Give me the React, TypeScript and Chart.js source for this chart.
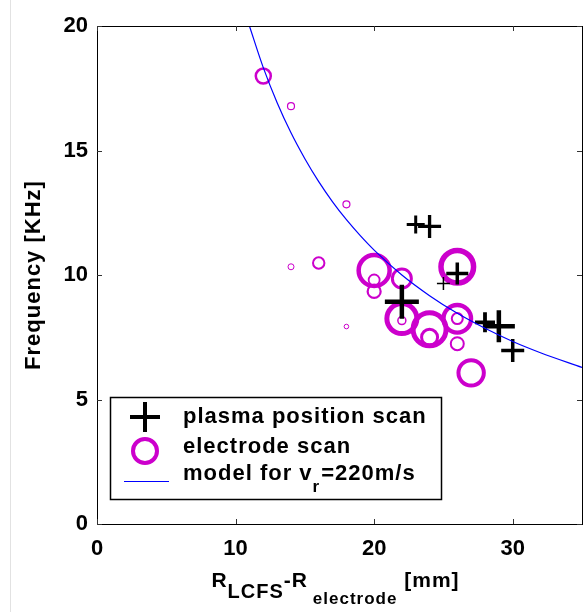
import React, { useEffect, useRef } from 'react';
import { Chart, registerables } from 'chart.js';

Chart.register(...registerables);

// ---- data ----
// plasma position scan (black crosses)
const crossX = [23, 24, 26, 25, 22, 28, 29, 30];
const crossY = [12.03, 11.95, 10.06, 9.66, 8.93, 8.1, 7.94, 6.97];
// electrode scan (magenta circles)
const circleX = [12, 14, 18, 14, 16, 18, 20, 20, 20, 22, 22, 22, 24, 24, 26, 26, 26, 26, 27];
const circleY = [17.99, 16.78, 12.84, 10.33, 10.48, 7.93, 10.18, 9.8, 9.34, 9.86, 8.25, 8.17, 7.82, 7.5, 10.33, 8.24, 8.25, 7.24, 6.07];
// model for v_r = 220 m/s (blue curve)
const modelX = [11, 12, 13, 14, 15, 16, 17, 18, 19, 20, 22, 24, 26, 28, 30, 32, 35];
const modelY = [20, 18.33, 16.92, 15.71, 14.67, 13.75, 12.94, 12.22, 11.58, 11, 10, 9.17, 8.46, 7.86, 7.33, 6.88, 6.29];

// axis ticks
const xTicks = [0, 10, 20, 30];
const yTicks = [0, 5, 10, 15, 20];

// marker styling (per point)
const crossRadius = [9, 11.5, 11, 6.5, 17, 10, 16, 11.5];
const crossWidth = [3, 3.3, 3.5, 1.5, 4.5, 3.8, 4.5, 3.5];
const circleRadius = [7.5, 3.5, 3.5, 3, 5.7, 2.3, 15.5, 5.5, 6.5, 9.5, 15, 4, 16.5, 8, 16.3, 13.8, 5.5, 6.5, 12.7];
const circleWidth = [2.5, 1.2, 1.2, 1, 2, 1, 4.5, 1.8, 2.2, 3, 5, 1.5, 5, 3, 5.5, 4.3, 2, 2, 4];

const MAGENTA = '#cc00cc';
const BLUE = '#0000ff';
const FONT = 'Arial, "Liberation Sans", Helvetica, sans-serif';

export default function App() {
  const ref = useRef<HTMLCanvasElement>(null);

  useEffect(() => {
    document.body.style.margin = '0';
    const canvas = ref.current;
    if (!canvas) return;

    const decor = {
      id: 'decor',
      beforeDraw(chart: any) {
        const ctx = chart.ctx;
        ctx.save();
        ctx.fillStyle = '#ffffff';
        ctx.fillRect(0, 0, chart.width, chart.height);
        ctx.strokeStyle = '#e2e2e2';
        ctx.lineWidth = 1;
        ctx.beginPath();
        ctx.moveTo(10.5, 0);
        ctx.lineTo(10.5, chart.height);
        ctx.stroke();
        ctx.restore();
      },
      afterDraw(chart: any) {
        const ctx = chart.ctx;
        const { left, right, top, bottom } = chart.chartArea;
        const xs = chart.scales.x;
        const ys = chart.scales.y;
        ctx.save();
        // frame
        ctx.strokeStyle = '#000';
        ctx.lineWidth = 1;
        ctx.strokeRect(left + 0.5, top + 0.5, right - left, bottom - top);
        // inward ticks
        ctx.strokeStyle = '#333';
        ctx.beginPath();
        xTicks.forEach((v) => {
          const px = Math.round(xs.getPixelForValue(v)) + 0.5;
          ctx.moveTo(px, bottom);
          ctx.lineTo(px, bottom - 5);
          ctx.moveTo(px, top);
          ctx.lineTo(px, top + 5);
        });
        yTicks.forEach((v) => {
          const py = Math.round(ys.getPixelForValue(v)) + 0.5;
          ctx.moveTo(left, py);
          ctx.lineTo(left + 5, py);
          ctx.moveTo(right, py);
          ctx.lineTo(right - 5, py);
        });
        ctx.stroke();

        ctx.fillStyle = '#000';
        (ctx as any).letterSpacing = '1px';
        ctx.textBaseline = 'alphabetic';
        ctx.textAlign = 'left';

        // y title
        ctx.save();
        ctx.translate(34, (top + bottom) / 2);
        ctx.rotate(-Math.PI / 2);
        ctx.font = `bold 22px ${FONT}`;
        ctx.textAlign = 'center';
        ctx.textBaseline = 'middle';
        ctx.fillText('Frequency [KHz]', 0, 0);
        ctx.restore();

        // x title with subscripts
        const parts: [string, number, number][] = [
          ['R', 21, 0],
          ['LCFS', 20, 11],
          ['-', 21, 0],
          ['R', 21, 0],
          [' ', 14, 0],
          ['electrode', 17, 17],
          [' [mm]', 21, 0],
        ];
        let totalW = 0;
        parts.forEach(([t, s]) => {
          ctx.font = `bold ${s}px ${FONT}`;
          totalW += ctx.measureText(t).width;
        });
        let cx = (left + right) / 2 - totalW / 2 - 4;
        const base = 586.5;
        parts.forEach(([t, s, dy]) => {
          ctx.font = `bold ${s}px ${FONT}`;
          ctx.fillText(t, cx, base + dy);
          cx += ctx.measureText(t).width;
        });

        // legend
        const lx = 110, ly = 397, lw = 331, lh = 102;
        ctx.fillStyle = '#fff';
        ctx.fillRect(lx, ly, lw, lh);
        ctx.strokeStyle = '#000';
        ctx.lineWidth = 1.5;
        ctx.strokeRect(lx + 0.5, ly + 0.5, lw, lh);
        // cross symbol
        ctx.lineWidth = 4;
        ctx.beginPath();
        ctx.moveTo(145 - 15, 417);
        ctx.lineTo(145 + 15, 417);
        ctx.moveTo(145, 417 - 15);
        ctx.lineTo(145, 417 + 15);
        ctx.stroke();
        // circle symbol
        ctx.strokeStyle = MAGENTA;
        ctx.lineWidth = 4;
        ctx.beginPath();
        ctx.arc(145, 451, 12, 0, Math.PI * 2);
        ctx.stroke();
        // line symbol
        ctx.strokeStyle = BLUE;
        ctx.lineWidth = 1;
        ctx.beginPath();
        ctx.moveTo(124, 481.5);
        ctx.lineTo(169, 481.5);
        ctx.stroke();
        // texts
        ctx.fillStyle = '#000';
        ctx.font = `bold 22px ${FONT}`;
        ctx.fillText('plasma position scan', 183, 423);
        ctx.fillText('electrode scan', 183, 453);
        let tx = 183;
        ctx.fillText('model for v', tx, 480);
        tx += ctx.measureText('model for v').width;
        ctx.font = `bold 17px ${FONT}`;
        ctx.fillText('r', tx, 492);
        tx += ctx.measureText('r').width + 1;
        ctx.font = `bold 22px ${FONT}`;
        ctx.fillText('=220m/s', tx, 480);
        ctx.restore();
      },
    };

    const chart = new Chart(canvas, {
      type: 'scatter',
      data: {
        datasets: [
          {
            label: 'model for v_r=220m/s',
            data: modelX.map((x, i) => ({ x, y: modelY[i] })),
            showLine: true,
            borderColor: BLUE,
            backgroundColor: BLUE,
            borderWidth: 1.2,
            pointRadius: 0,
            cubicInterpolationMode: 'monotone',
            fill: false,
            order: 0,
          } as any,
          {
            label: 'plasma position scan',
            data: crossX.map((x, i) => ({ x, y: crossY[i] })),
            pointStyle: 'cross',
            pointRadius: crossRadius,
            pointBorderWidth: crossWidth,
            pointBorderColor: '#000',
            borderColor: '#000',
            backgroundColor: '#000',
            showLine: false,
            order: 1,
          } as any,
          {
            label: 'electrode scan',
            data: circleX.map((x, i) => ({ x, y: circleY[i] })),
            pointStyle: 'circle',
            pointRadius: circleRadius,
            pointBorderWidth: circleWidth,
            pointBorderColor: MAGENTA,
            borderColor: MAGENTA,
            pointBackgroundColor: 'rgba(0,0,0,0)',
            backgroundColor: 'rgba(0,0,0,0)',
            showLine: false,
            order: 2,
          } as any,
        ],
      },
      options: {
        responsive: false,
        animation: false,
        devicePixelRatio: 1,
        events: [],
        layout: { autoPadding: false, padding: { top: 26, right: 1, left: 0, bottom: 0 } },
        plugins: {
          legend: { display: false },
          tooltip: { enabled: false },
        },
        scales: {
          x: {
            type: 'linear',
            min: 0,
            max: 35,
            grid: { display: false, drawTicks: false },
            border: { display: false },
            ticks: {
              padding: 12,
              color: '#000',
              font: { family: FONT, size: 22, weight: 'bold' },
            },
            afterBuildTicks: (s: any) => {
              s.ticks = xTicks.map((v) => ({ value: v }));
            },
            afterFit: (s: any) => {
              s.height = 88;
              s.paddingLeft = 0;
              s.paddingRight = 0;
            },
          },
          y: {
            type: 'linear',
            min: 0,
            max: 20,
            grid: { display: false, drawTicks: false },
            border: { display: false },
            ticks: {
              padding: 9,
              color: '#000',
              font: { family: FONT, size: 22, weight: 'bold' },
            },
            afterBuildTicks: (s: any) => {
              s.ticks = yTicks.map((v) => ({ value: v }));
            },
            afterFit: (s: any) => {
              s.width = 97;
              s.paddingTop = 0;
              s.paddingBottom = 0;
            },
          },
        },
      } as any,
      plugins: [decor],
    });

    return () => {
      chart.destroy();
    };
  }, []);

  return (
    <div style={{ width: 583, height: 612, overflow: 'hidden' }}>
      <canvas ref={ref} width={583} height={612} style={{ display: 'block' }} />
    </div>
  );
}
